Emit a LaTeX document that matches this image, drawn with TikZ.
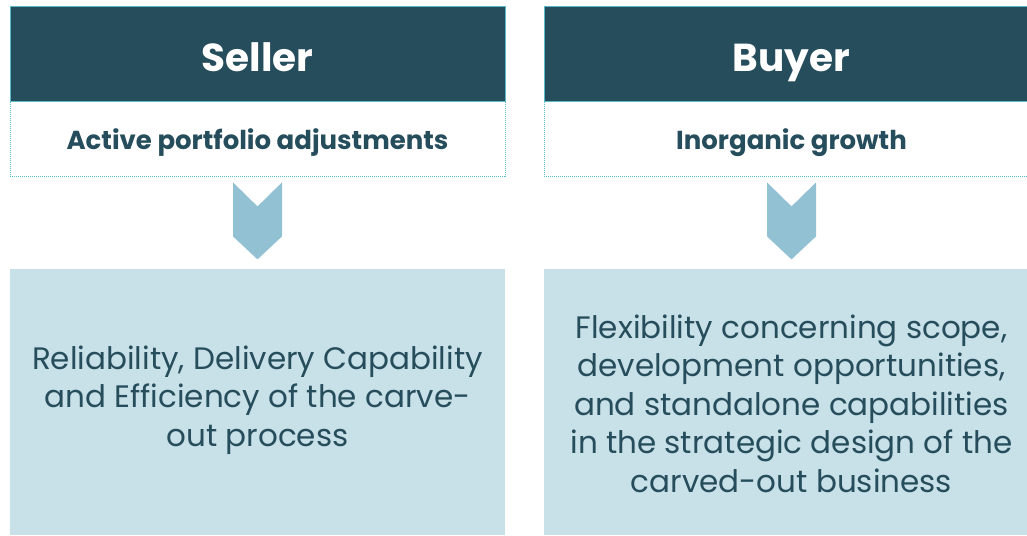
\documentclass[tikz,border=0pt]{standalone}
\usepackage{fontspec}
\setmainfont{Poppins}
\usetikzlibrary{calc}
\begin{document}
\definecolor{headfill}{RGB}{38,77,92}
\definecolor{headline}{RGB}{88,186,198}
\definecolor{dotline}{RGB}{96,190,200}
\definecolor{chevfill}{RGB}{146,193,211}
\definecolor{bodyfill}{RGB}{200,224,231}
\definecolor{inktext}{RGB}{38,77,92}
\begin{tikzpicture}[x=1pt,y=-1pt,
  headbox/.style={draw=headline,line width=1pt,fill=headfill,
    minimum width=495pt,minimum height=94pt,inner sep=0pt},
  subbox/.style={draw=dotline,line width=0.8pt,dash pattern=on 1pt off 1pt,
    minimum width=495pt,minimum height=75pt,inner sep=0pt},
  bodybox/.style={fill=bodyfill,minimum width=495pt,minimum height=266pt,
    inner sep=0pt},
  headtext/.style={text=white,anchor=base,inner sep=0pt,
    font=\fontsize{39}{46}\selectfont\bfseries},
  subtext/.style={text=inktext,anchor=base,inner sep=0pt,
    font=\fontsize{26}{30}\selectfont\bfseries},
  bodytext/.style={text=inktext,anchor=base,align=center,inner sep=0pt,
    font=\fontsize{31}{38.4}\selectfont},
  chevron/.style={fill=chevfill,draw=none}]
\useasboundingbox (0,0) rectangle (1027,535);
\clip (0,0) rectangle (1027,535);

% Seller column
\node[headbox] (sellhead) at (257.5,54) {};
\node[headtext] (selltitle) at (257.5,71) {Seller};
\node[subbox] (sellsub) at (257.5,138.5) {};
\node[subtext] (sellsubtext) at (257.5,149) {Active portfolio adjustments};
\node[bodybox] (sellbody) at (257.5,402) {};
\node[bodytext] (selltext) at (257.5,446)
  {Reliability, Delivery Capability\\and Efficiency of the carve-\\out process};

% Buyer column
\node[headbox] (buyhead) at (791.5,54) {};
\node[headtext] (buytitle) at (791.5,71) {Buyer};
\node[subbox] (buysub) at (791.5,138.5) {};
\node[subtext] (buysubtext) at (791.5,149) {Inorganic growth};
\node[bodybox] (buybody) at (791.5,402) {};
\node[bodytext] (buytext) at (791.5,492)
  {Flexibility concerning scope,\\development opportunities,\\and standalone capabilities\\in the strategic design of the\\carved-out business};

% Chevrons between the subtitle and the body boxes
\foreach \c in {sell,buy}{
  \coordinate (\c top) at ($(\c sub.south)+(0,6)$);
  \fill[chevron] ($(\c top)+(-24.5,0)$) -- ($(\c top)+(0,24)$)
    -- ($(\c top)+(24.5,0)$) -- ($(\c top)+(24.5,54)$)
    -- ($(\c top)+(0,77)$) -- ($(\c top)+(-24.5,54)$) -- cycle;
}
\end{tikzpicture}
\end{document}
